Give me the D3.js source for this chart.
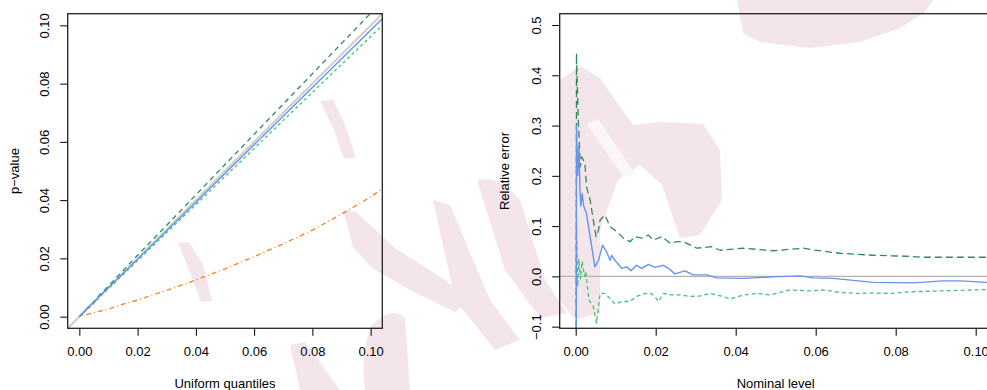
<!DOCTYPE html>
<html>
<head>
<meta charset="utf-8">
<script src="https://cdn.jsdelivr.net/npm/d3@7"></script>
<style>
  body { margin: 0; background: #fff; }
  text { font-family: "Liberation Sans", Arial, sans-serif; font-size: 13px; fill: #000; }
</style>
</head>
<body>
<svg id="chart" width="987" height="390"></svg>
<script>
// ---- data: left panel (QQ plot of p-values) ----
const qqTicks = [0, 0.02, 0.04, 0.06, 0.08, 0.10]
const qqBlue = [[0,0],[0.002,0.0021],[0.004,0.0042],[0.005,0.0048],[0.007,0.0072],[0.01,0.0099],[0.02,0.0197],[0.03,0.0295],[0.04,0.0393],[0.06,0.059],[0.08,0.0787],[0.104,0.1023]]
const qqDarkGreen = [[0,0],[0.003,0.0032],[0.005,0.0052],[0.007,0.0075],[0.01,0.0105],[0.02,0.0211],[0.03,0.0314],[0.04,0.0418],[0.06,0.0626],[0.08,0.0834],[0.104,0.1083]]
const qqLightGreen = [[0,0],[0.003,0.0028],[0.005,0.0046],[0.007,0.0068],[0.01,0.0096],[0.02,0.0192],[0.04,0.0385],[0.06,0.0577],[0.08,0.077],[0.104,0.1]]
const qqOrange = [[0.001,0.0004],[0.01,0.0026],[0.016,0.0046],[0.02,0.0057],[0.03,0.009],[0.04,0.0126],[0.05,0.0164],[0.06,0.0206],[0.07,0.025],[0.08,0.0297],[0.09,0.0352],[0.1,0.0411],[0.104,0.044]]

// ---- data: right panel (relative error vs nominal level) ----
const errXTicks = [0, 0.02, 0.04, 0.06, 0.08, 0.10]
const errYTicks = [-0.1, 0, 0.1, 0.2, 0.3, 0.4, 0.5]
const errBlue = [[0,-1],[0.0002,0.30],[0.0005,0.20],[0.0008,0.26],[0.0011,0.165],[0.0013,0.14],[0.0016,0.165],[0.002,0.14],[0.0027,0.125],[0.0036,0.079],[0.0048,0.019],[0.0057,0.032],[0.0067,0.062],[0.0077,0.049],[0.0086,0.032],[0.009,0.042],[0.0098,0.032],[0.0115,0.016],[0.0128,0.019],[0.0138,0.011],[0.0152,0.022],[0.0165,0.016],[0.0182,0.024],[0.0198,0.018],[0.0219,0.022],[0.0232,0.016],[0.0248,0.005],[0.0273,0.011],[0.0294,0.003],[0.0328,0.003],[0.0352,-0.003],[0.0419,-0.004],[0.0494,-0.001],[0.0561,0.001],[0.0594,-0.003],[0.0644,-0.004],[0.0744,-0.012],[0.0844,-0.013],[0.0919,-0.009],[0.0961,-0.009],[0.1027,-0.012],[0.104,-0.012]]
const errDarkGreen = [[0,-1],[0.0002,0.4435],[0.0005,0.35],[0.0007,0.298],[0.0009,0.271],[0.0011,0.218],[0.0015,0.238],[0.0023,0.225],[0.0027,0.178],[0.0036,0.152],[0.0044,0.112],[0.0051,0.079],[0.0057,0.092],[0.0061,0.112],[0.0073,0.122],[0.0086,0.099],[0.0103,0.089],[0.0119,0.076],[0.0136,0.069],[0.0148,0.079],[0.0165,0.076],[0.0182,0.082],[0.0194,0.072],[0.0215,0.079],[0.0236,0.066],[0.0253,0.069],[0.0269,0.069],[0.0303,0.056],[0.034,0.059],[0.0361,0.052],[0.0419,0.056],[0.0494,0.051],[0.0569,0.056],[0.0598,0.052],[0.0661,0.046],[0.0744,0.042],[0.0828,0.04],[0.0869,0.038],[0.0953,0.038],[0.104,0.038]]
const errLightGreen = [[0,-1],[0.0002,0.10],[0.0005,-0.02],[0.0008,0.035],[0.0012,-0.005],[0.0016,0.03],[0.0022,0],[0.0025,0.01],[0.0033,-0.047],[0.0044,-0.06],[0.0052,-0.093],[0.0061,-0.034],[0.0073,-0.034],[0.0086,-0.044],[0.0098,-0.055],[0.0115,-0.05],[0.0136,-0.05],[0.0152,-0.04],[0.0169,-0.035],[0.0186,-0.033],[0.0198,-0.04],[0.0207,-0.05],[0.0219,-0.034],[0.024,-0.037],[0.0265,-0.037],[0.0286,-0.04],[0.0311,-0.039],[0.0336,-0.034],[0.0369,-0.04],[0.0386,-0.045],[0.0419,-0.037],[0.0453,-0.034],[0.0486,-0.037],[0.0536,-0.027],[0.0586,-0.029],[0.0619,-0.027],[0.0661,-0.032],[0.0703,-0.034],[0.0744,-0.033],[0.0786,-0.034],[0.0828,-0.031],[0.0911,-0.029],[0.0994,-0.027],[0.104,-0.026]]

const svg = d3.select("#chart")
svg.append("rect").attr("width", 987).attr("height", 390).attr("fill", "#fff")

// faint pink watermark behind everything
const watermark = [
  "M178,243 L189,242 L203,265 L212,301 L201,302 L190,272 Z",
  "M320,101 L333,100 L344,122 L356,158 L344,158 L333,128 Z",
  "M343,210 L356,212 L395,248 L445,280 L470,300 L455,312 L410,290 L372,268 L353,247 Z",
  "M372,325 Q392,305 405,318 L410,390 L365,390 Q360,350 372,325 Z",
  "M290,345 L305,342 L340,390 L300,390 Z",
  "M433,200 L450,205 L490,300 L520,340 L495,350 L455,300 Z",
  "M737,0 L933,0 L925,12 L900,28 L860,42 L810,48 L760,42 L743,33 Z",
  "M560,80 L580,66 L600,78 L633,125 L660,122 L703,124 L720,150 L722,200 L700,235 L680,238 L662,185 L640,165 L618,180 L600,230 L600,313 L575,320 L560,300 Z",
  "M477,180 Q500,175 520,200 L545,280 L567,313 L540,318 L505,270 Z"
]
const wm = svg.append("g")
wm.selectAll("path").data(watermark).join("path")
  .attr("d", d => d).attr("fill", "#f4e5ea")
// light stripe inside the large right-hand shape
wm.append("path").attr("d", "M587,124 L598,119 L634,172 L624,178 Z").attr("fill", "#fbf6f7")

const fmt2 = d3.format(".2f")
const fmt1 = d3.format(".1f")

function panel(id, xs, ys, xTicks, yTicks, yFmt, xTitle, yTitle, yTitleX) {
  const [x0, x1] = xs.range()
  const [yb, yt] = ys.range()
  const g = svg.append("g")
  g.append("clipPath").attr("id", id)
    .append("rect").attr("x", x0).attr("y", yt).attr("width", x1 - x0).attr("height", yb - yt)

  // x axis
  const ax = g.append("g").attr("transform", `translate(0,${yb})`)
    .call(d3.axisBottom(xs).tickValues(xTicks).tickFormat(fmt2).tickSize(7.5).tickPadding(11))
  ax.select(".domain").remove()
  ax.selectAll("text").style("font-size", "13px")

  // y axis with rotated labels
  const ay = g.append("g").attr("transform", `translate(${x0},0)`)
    .call(d3.axisLeft(ys).tickValues(yTicks).tickFormat(yFmt).tickSize(7.5))
  ay.select(".domain").remove()
  ay.selectAll("text").style("font-size", "13px")
    .attr("x", null).attr("text-anchor", "middle").attr("dy", "0.36em")
    .attr("transform", "translate(-23.5,0) rotate(-90)")

  g.append("text").attr("x", (x0 + x1) / 2).attr("y", 387.5)
    .attr("text-anchor", "middle").text(xTitle)
  g.append("text").attr("text-anchor", "middle").attr("dy", "0.36em")
    .attr("transform", `translate(${yTitleX},${(yb + yt) / 2}) rotate(-90)`).text(yTitle)

  const plot = g.append("g").attr("clip-path", `url(#${id})`)
  return { g, plot, box: [x0, x1, yb, yt] }
}

function drawBox(p) {
  const [x0, x1, yb, yt] = p.box
  p.g.append("rect").attr("x", x0).attr("y", yt).attr("width", x1 - x0).attr("height", yb - yt)
    .attr("fill", "none").attr("stroke", "#222").attr("stroke-width", 1.3)
}

function addLine(plot, data, xs, ys, color, width, dash) {
  plot.append("path").datum(data)
    .attr("d", d3.line().x(d => xs(d[0])).y(d => ys(d[1])))
    .attr("fill", "none").attr("stroke", color).attr("stroke-width", width)
    .attr("stroke-dasharray", dash || null).attr("stroke-linejoin", "round")
}

// ---- left panel ----
const xq = d3.scaleLinear().domain([-0.004, 0.104]).range([67.7, 382.3])
const yq = d3.scaleLinear().domain([-0.004, 0.104]).range([328.3, 13.7])
const left = panel("clipL", xq, yq, qqTicks, qqTicks, fmt2, "Uniform quantiles", "p\u2212value", 14)
addLine(left.plot, [[-0.004, -0.004], [0.104, 0.104]], xq, yq, "#cfcfcf", 2)
addLine(left.plot, qqOrange, xq, yq, "#ff7f24", 1.3, "1,3,5,3")
addLine(left.plot, qqLightGreen, xq, yq, "#40c472", 1.3, "3,3")
addLine(left.plot, qqDarkGreen, xq, yq, "#2e8b57", 1.3, "5,4")
addLine(left.plot, qqBlue, xq, yq, "#6495ed", 1.4)
drawBox(left)

// ---- right panel ----
const xe = d3.scaleLinear().domain([-0.004, 0.104]).range([559.7, 991.7])
const ye = d3.scaleLinear().domain([-0.1033, 0.5225]).range([328.3, 13.7])
const right = panel("clipR", xe, ye, errXTicks, errYTicks, fmt1, "Nominal level", "Relative error", 504)
addLine(right.plot, [[-0.004, 0], [0.104, 0]], xe, ye, "#b3b3b3", 1.2)
addLine(right.plot, errLightGreen, xe, ye, "#40c472", 1.3, "4,3")
addLine(right.plot, errDarkGreen, xe, ye, "#2e8b57", 1.3, "7,4")
addLine(right.plot, errBlue, xe, ye, "#6495ed", 1.4)
drawBox(right)
</script>
</body>
</html>
